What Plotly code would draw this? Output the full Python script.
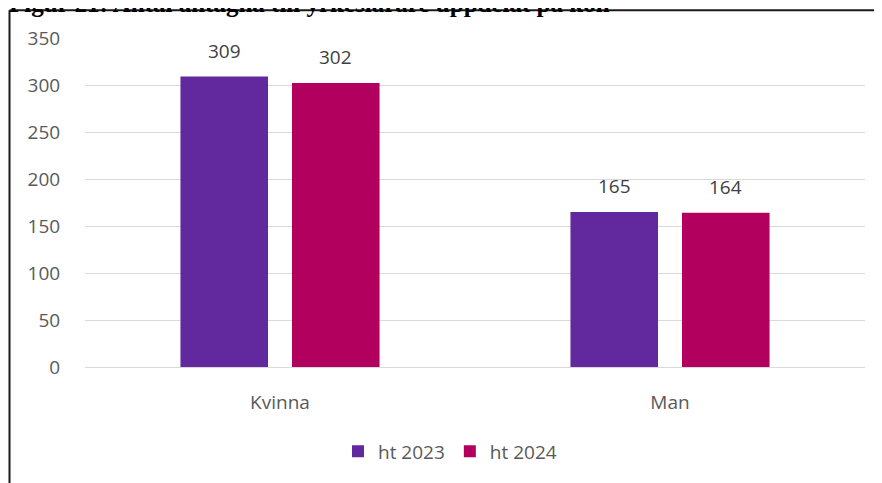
import plotly.graph_objects as go

categories = ["Kvinna", "Man"]
series_names = ["ht 2023", "ht 2024"]
values_2023 = [309, 165]
values_2024 = [302, 164]
colors = ["#62289E", "#B1005D"]
y_ticks = [0, 50, 100, 150, 200, 250, 300, 350]
title_text = "Figur 21: Antal antagna till yrkeslärare uppdelat på kön"

# page body has an 8px margin; figure coordinates are page coordinates - 8
W, H = 874, 475
ML, MR, MT, MB = 77, 17, 30, 114
plot_w = W - ML - MR
plot_h = H - MT - MB

BARGAP = 0.428
BARGROUPGAP = 0.215

fig = go.Figure()
for name, vals, col in zip(series_names, [values_2023, values_2024], colors):
    fig.add_trace(go.Bar(x=categories, y=vals, name=name, marker_color=col,
                         marker_line_width=0))

# data labels
cat_w = plot_w / len(categories)
slot = cat_w * (1 - BARGAP) / 2
offsets = [-slot / 2, slot / 2]
annotations = []
for vals, off in zip([values_2023, values_2024], offsets):
    for c, v in zip(categories, vals):
        annotations.append(dict(x=c, y=v, xref="x", yref="y", text=str(v),
                                showarrow=False, xshift=off, yshift=11,
                                yanchor="bottom",
                                font=dict(family="Open Sans", size=19, color="#404040")))

def px_to_paper_x(px):
    return (px - ML) / plot_w

def px_to_paper_y(py):
    return (H - MB - py) / plot_h

annotations.append(dict(x=px_to_paper_x(-1), y=px_to_paper_y(11), xref="paper", yref="paper",
                        xanchor="left", yanchor="bottom", showarrow=False, text="<b>" + title_text + "</b>",
                        font=dict(family="Liberation Serif", size=25, color="#000000")))

fx = px_to_paper_x(1.5)
fy = px_to_paper_y(2)
shapes = [
    dict(type="line", xref="paper", yref="paper", x0=fx, x1=fx, y0=px_to_paper_y(H + 20), y1=fy,
         line=dict(color="#1a1a1a", width=2)),
    dict(type="line", xref="paper", yref="paper", x0=fx, x1=px_to_paper_x(W + 20), y0=fy, y1=fy,
         line=dict(color="#1a1a1a", width=2)),
]

fig.update_layout(
    width=W, height=H,
    margin=dict(l=ML, r=MR, t=MT, b=MB, pad=0),
    paper_bgcolor="white", plot_bgcolor="white",
    barmode="group", bargap=BARGAP, bargroupgap=BARGROUPGAP,
    font=dict(family="Open Sans", size=19, color="#595959"),
    showlegend=True,
    legend=dict(orientation="h", x=px_to_paper_x(442), y=px_to_paper_y(446),
                xanchor="center", yanchor="middle",
                font=dict(family="Open Sans", size=19, color="#595959")),
    annotations=annotations,
    shapes=shapes,
)
fig.update_yaxes(range=[0, 350], tickvals=y_ticks, showgrid=True, gridcolor="#D9D9D9",
                 gridwidth=1, zeroline=False, showline=False,
                 ticks="outside", ticklen=20, tickcolor="rgba(0,0,0,0)",
                 tickfont=dict(family="Open Sans", size=19, color="#595959"))
fig.update_xaxes(showline=True, linecolor="#D9D9D9", linewidth=1,
                 ticks="outside", ticklen=18, tickcolor="rgba(0,0,0,0)",
                 tickfont=dict(family="Open Sans", size=19, color="#595959"))

fig.write_html("out.html")
